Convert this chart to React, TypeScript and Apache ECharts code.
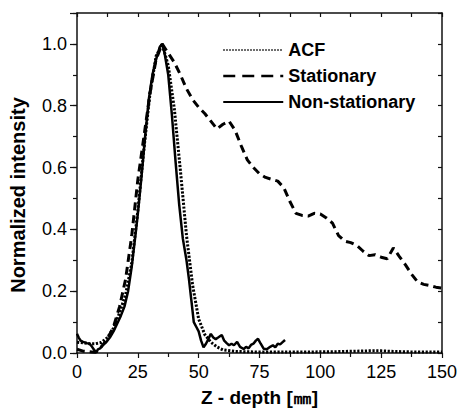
import React, { useEffect, useRef } from "react";
import * as echarts from "echarts";

const xTicks = [0, 25, 50, 75, 100, 125, 150];
const yTickLabels = ["0.0", "0.2", "0.4", "0.6", "0.8", "1.0"];
const seriesNames = ["ACF", "Stationary", "Non-stationary"];

const acfX = [0, 2.5, 5, 7.5, 10, 12.5, 15, 17.5, 20, 22.5, 25, 27.5, 30, 32.5, 35, 37.5, 40, 42.5, 45, 47.5, 50, 52.5, 55, 57.5, 60, 65, 70, 75, 80, 85, 90, 95, 100, 105, 110, 115, 120, 125, 130, 135, 140, 145, 150];
const acfY = [0.035, 0.033, 0.03, 0.03, 0.034, 0.05, 0.08, 0.13, 0.19, 0.29, 0.46, 0.66, 0.84, 0.96, 1.0, 0.93, 0.79, 0.59, 0.38, 0.22, 0.11, 0.06, 0.035, 0.02, 0.01, 0.005, 0.004, 0.003, 0.003, 0.003, 0.003, 0.003, 0.004, 0.004, 0.005, 0.006, 0.007, 0.007, 0.005, 0.004, 0.003, 0.003, 0.003];

const statX = [0, 2.5, 5, 7.5, 10, 12.5, 15, 17.5, 20, 22.5, 25, 27.5, 30, 32.5, 35, 37.5, 40, 42.5, 45, 47.5, 50, 52.5, 55, 57.5, 60, 62.5, 65, 67.5, 70, 72.5, 75, 77.5, 80, 82.5, 85, 87.5, 90, 92.5, 95, 97.5, 100, 102.5, 105, 107.5, 110, 112.5, 115, 117.5, 120, 122.5, 125, 127.5, 130, 132.5, 135, 137.5, 140, 142.5, 145, 147.5, 150];
const statY = [0.012, 0.006, 0.004, 0.002, 0.02, 0.045, 0.085, 0.15, 0.24, 0.38, 0.56, 0.7, 0.84, 0.95, 1.0, 0.97, 0.94, 0.9, 0.855, 0.82, 0.795, 0.775, 0.75, 0.725, 0.74, 0.75, 0.72, 0.67, 0.625, 0.6, 0.58, 0.568, 0.562, 0.556, 0.535, 0.49, 0.452, 0.445, 0.443, 0.452, 0.45, 0.437, 0.42, 0.38, 0.362, 0.357, 0.348, 0.33, 0.315, 0.318, 0.31, 0.305, 0.34, 0.312, 0.285, 0.255, 0.23, 0.222, 0.218, 0.213, 0.21];

const nsX = [0, 0.7, 1.5, 2.5, 4, 5.2, 6.2, 7.2, 8, 8.6, 9.5, 10.5, 12, 13.5, 15, 16.5, 18, 19.5, 21, 22.5, 24, 25, 26.5, 28, 29.5, 31, 32.5, 34, 35, 36, 37.5, 39, 40.5, 42, 43.5, 45, 46, 47, 48, 49, 50, 51, 52, 53, 54, 55, 56, 57, 58, 59.5, 60.5, 61.5, 62.5, 63.5, 64.5, 65.8, 67, 68.5, 69.5, 70.5, 71.5, 72.5, 73.5, 74.4, 75.5, 76.7, 78, 79.4, 80.5, 81.5, 82.5, 83.5, 84.5, 85.5];
const nsY = [0.062, 0.05, 0.04, 0.036, 0.032, 0.03, 0.02, 0.008, 0.002, 0.012, 0.015, 0.025, 0.035, 0.05, 0.07, 0.095, 0.12, 0.15, 0.2, 0.28, 0.38, 0.45, 0.57, 0.7, 0.82, 0.9, 0.95, 0.99, 1.0, 0.97, 0.9, 0.77, 0.62, 0.48, 0.37, 0.3, 0.24, 0.17, 0.1, 0.085, 0.07, 0.04, 0.018, 0.03, 0.045, 0.062, 0.05, 0.045, 0.05, 0.058, 0.04, 0.032, 0.025, 0.03, 0.025, 0.036, 0.02, 0.013, 0.02, 0.015, 0.026, 0.03, 0.04, 0.046, 0.03, 0.014, 0.012, 0.02, 0.025, 0.018, 0.03, 0.028, 0.035, 0.042];

const FONT = '"Liberation Sans", Arial, sans-serif';
const AX = "#111";

function pairs(xs: number[], ys: number[]) {
  return xs.map((x, i) => [x, ys[i]]);
}

export default function App() {
  const ref = useRef<HTMLDivElement>(null);
  useEffect(() => {
    document.body.style.margin = "0";
    const chart = echarts.init(ref.current!, null, { renderer: "svg" });
    const axisLine = { show: true, onZero: false, lineStyle: { color: AX, width: 1.5 } };
    chart.setOption({
      animation: false,
      backgroundColor: "#fff",
      grid: { left: 77, right: 15, top: 13, bottom: 56 },
      legend: {
        orient: "vertical",
        left: 217,
        top: 36,
        itemWidth: 60,
        itemHeight: 14,
        itemGap: 8,
        itemStyle: { opacity: 0 },
        textStyle: { fontFamily: FONT, fontSize: 18, fontWeight: "bold", color: "#000" },
        data: [
          { name: seriesNames[0], itemStyle: { opacity: 0 }, lineStyle: { type: [1.5, 1.5], width: 1.5, color: "#000" } },
          { name: seriesNames[1], itemStyle: { opacity: 0 }, lineStyle: { type: [12, 7], width: 2.5, color: "#000" } },
          { name: seriesNames[2], itemStyle: { opacity: 0 }, lineStyle: { type: "solid", width: 2, color: "#000" } },
        ],
      },
      xAxis: [
        {
          type: "value",
          position: "bottom",
          min: xTicks[0],
          max: xTicks[xTicks.length - 1],
          interval: 25,
          axisLine,
          axisTick: { show: true, inside: false, length: 5, lineStyle: { color: AX, width: 1.2 } },
          minorTick: { show: true, splitNumber: 2, length: 4, lineStyle: { color: AX, width: 1.2 } },
          splitLine: { show: false },
          axisLabel: { margin: 10, fontFamily: FONT, fontSize: 18, color: "#000" },
          name: "Z - depth [㎜]",
          nameLocation: "middle",
          nameGap: 35,
          nameTextStyle: { fontFamily: FONT, fontSize: 19, fontWeight: "bold", color: "#000" },
        },
        {
          type: "value",
          position: "top",
          min: 0,
          max: 150,
          interval: 12.5,
          axisLine,
          axisTick: { show: true, inside: true, length: 4, lineStyle: { color: AX, width: 1.2 } },
          axisLabel: { show: false },
          splitLine: { show: false },
        },
      ],
      yAxis: [
        {
          type: "value",
          position: "left",
          min: 0,
          max: 1.1,
          interval: 0.2,
          axisLine,
          axisTick: { show: true, inside: false, length: 7, lineStyle: { color: AX, width: 1.2 } },
          splitLine: { show: false },
          axisLabel: {
            margin: 10,
            fontFamily: FONT,
            fontSize: 18,
            color: "#000",
            formatter: (v: number) => {
              const i = Math.round(v / 0.2);
              return v > 1.05 ? "" : yTickLabels[i];
            },
          },
        },
        {
          type: "value",
          position: "left",
          min: 0,
          max: 1.1,
          interval: 0.1,
          axisLine: { show: false },
          axisTick: { show: true, inside: false, length: 4, lineStyle: { color: AX, width: 1.2 } },
          axisLabel: { show: false },
          splitLine: { show: false },
        },
        {
          type: "value",
          position: "right",
          min: 0,
          max: 1.1,
          interval: 0.1,
          axisLine,
          axisTick: { show: true, inside: true, length: 4, lineStyle: { color: AX, width: 1.2 } },
          axisLabel: { show: false },
          splitLine: { show: false },
        },
      ],
      graphic: [
        {
          type: "text",
          x: 18,
          y: 195,
          rotation: Math.PI / 2,
          style: {
            text: "Normalized intensity",
            font: 'bold 20px "Liberation Sans", Arial, sans-serif',
            fill: "#000",
            align: "center",
            verticalAlign: "middle",
            textAlign: "center",
            textVerticalAlign: "middle",
          },
        },
      ],
      series: [
        {
          name: seriesNames[1],
          type: "line",
          xAxisIndex: 0,
          yAxisIndex: 0,
          symbol: "none",
          data: pairs(statX, statY),
          itemStyle: { color: "#000" },
          lineStyle: { color: "#000", width: 3, type: [8, 5] },
          z: 2,
        },
        {
          name: seriesNames[0],
          type: "line",
          xAxisIndex: 0,
          yAxisIndex: 0,
          symbol: "none",
          data: pairs(acfX, acfY),
          itemStyle: { color: "#000" },
          lineStyle: { color: "#000", width: 3, type: [2.2, 1.6] },
          z: 3,
        },
        {
          name: seriesNames[2],
          type: "line",
          xAxisIndex: 0,
          yAxisIndex: 0,
          symbol: "none",
          data: pairs(nsX, nsY),
          itemStyle: { color: "#000" },
          lineStyle: { color: "#000", width: 2.5, type: "solid" },
          z: 4,
        },
      ],
    });
    return () => chart.dispose();
  }, []);
  return <div ref={ref} style={{ width: 460, height: 412 }} />;
}
